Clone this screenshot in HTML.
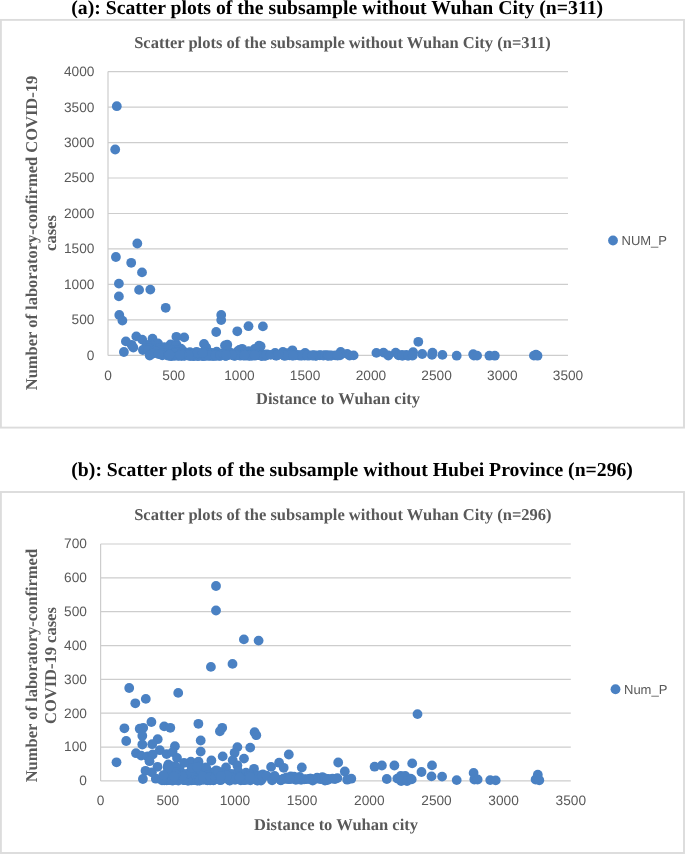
<!DOCTYPE html>
<html lang="en"><head><meta charset="utf-8"><title>Scatter plots</title>
<style>
html,body{margin:0;padding:0;background:#fff;}
body{width:685px;height:854px;overflow:hidden;position:relative;}
svg{position:absolute;left:0;top:0;display:block}
text{text-rendering:geometricPrecision}
.t{font-family:"Liberation Serif",serif;font-weight:bold;}
.h{font-size:19.72px;fill:#000;}
.ct{font-size:16.5px;fill:#595959;}
.n{font-family:"Liberation Sans",sans-serif;font-size:13.7px;fill:#595959;}
.l{font-size:13px}
.g{stroke:#cdcdcd;stroke-width:1.2;fill:none}
.b{stroke:#dcdcdc;stroke-width:1.9;fill:#fff;}
.p{fill:#4a81c3}
</style></head><body>
<svg width="685" height="854" viewBox="0 0 685 854">

<text class="t h" x="71.3" y="14.0">(a): Scatter plots of the subsample without Wuhan City (n=311)</text>
<rect class="b" x="0.9" y="19.9" width="683.1" height="407.7"/>
<text class="t ct" x="134.2" y="47.8">Scatter plots of the subsample without Wuhan City (n=311)</text>
<line class="g" x1="108.0" x2="568.0" y1="71.60" y2="71.60"/>
<text class="n" text-anchor="end" x="94.4" y="76.05">4000</text>
<line class="g" x1="108.0" x2="568.0" y1="107.07" y2="107.07"/>
<text class="n" text-anchor="end" x="94.4" y="111.52">3500</text>
<line class="g" x1="108.0" x2="568.0" y1="142.55" y2="142.55"/>
<text class="n" text-anchor="end" x="94.4" y="147.00">3000</text>
<line class="g" x1="108.0" x2="568.0" y1="178.02" y2="178.02"/>
<text class="n" text-anchor="end" x="94.4" y="182.47">2500</text>
<line class="g" x1="108.0" x2="568.0" y1="213.50" y2="213.50"/>
<text class="n" text-anchor="end" x="94.4" y="217.95">2000</text>
<line class="g" x1="108.0" x2="568.0" y1="248.97" y2="248.97"/>
<text class="n" text-anchor="end" x="94.4" y="253.42">1500</text>
<line class="g" x1="108.0" x2="568.0" y1="284.45" y2="284.45"/>
<text class="n" text-anchor="end" x="94.4" y="288.90">1000</text>
<line class="g" x1="108.0" x2="568.0" y1="319.92" y2="319.92"/>
<text class="n" text-anchor="end" x="94.4" y="324.37">500</text>
<line class="g" x1="108.0" x2="568.0" y1="355.40" y2="355.40"/>
<text class="n" text-anchor="end" x="94.4" y="359.85">0</text>
<line class="g" x1="108.0" x2="108.0" y1="71.6" y2="355.4"/>
<text class="n" text-anchor="middle" x="108.0" y="379.8">0</text>
<text class="n" text-anchor="middle" x="173.7" y="379.8">500</text>
<text class="n" text-anchor="middle" x="239.4" y="379.8">1000</text>
<text class="n" text-anchor="middle" x="305.1" y="379.8">1500</text>
<text class="n" text-anchor="middle" x="370.9" y="379.8">2000</text>
<text class="n" text-anchor="middle" x="436.6" y="379.8">2500</text>
<text class="n" text-anchor="middle" x="502.3" y="379.8">3000</text>
<text class="n" text-anchor="middle" x="568.0" y="379.8">3500</text>
<text class="t ct" text-anchor="middle" x="338" y="403.7">Distance to Wuhan city</text>
<text class="t ct" text-anchor="middle" transform="translate(37,233.0) rotate(-90)">Number of laboratory-confirmed COVID-19</text>
<text class="t ct" text-anchor="middle" transform="translate(56.4,233.0) rotate(-90)">cases</text>
<g class="p"><circle cx="221.2" cy="315.0" r="4.9"/><circle cx="221.2" cy="320.1" r="4.9"/><circle cx="216.2" cy="332.0" r="4.9"/><circle cx="248.5" cy="326.2" r="4.9"/><circle cx="262.9" cy="326.4" r="4.9"/><circle cx="237.3" cy="331.3" r="4.9"/><circle cx="136.3" cy="336.4" r="4.9"/><circle cx="184.2" cy="337.4" r="4.9"/><circle cx="152.5" cy="338.7" r="4.9"/><circle cx="142.2" cy="339.6" r="4.9"/><circle cx="158.0" cy="343.5" r="4.9"/><circle cx="131.6" cy="344.8" r="4.9"/><circle cx="146.6" cy="344.9" r="4.9"/><circle cx="150.0" cy="344.7" r="4.9"/><circle cx="170.5" cy="344.4" r="4.9"/><circle cx="176.5" cy="344.7" r="4.9"/><circle cx="204.0" cy="343.9" r="4.9"/><circle cx="149.1" cy="346.4" r="4.9"/><circle cx="133.3" cy="347.5" r="4.9"/><circle cx="164.2" cy="347.1" r="4.9"/><circle cx="158.8" cy="348.2" r="4.9"/><circle cx="149.1" cy="348.2" r="4.9"/><circle cx="206.2" cy="347.4" r="4.9"/><circle cx="181.0" cy="348.6" r="4.9"/><circle cx="166.2" cy="349.4" r="4.9"/><circle cx="142.9" cy="350.0" r="4.9"/><circle cx="206.2" cy="349.7" r="4.9"/><circle cx="123.9" cy="352.0" r="4.9"/><circle cx="148.0" cy="350.5" r="4.9"/><circle cx="154.3" cy="350.7" r="4.9"/><circle cx="159.3" cy="350.3" r="4.9"/><circle cx="172.9" cy="350.2" r="4.9"/><circle cx="178.7" cy="349.8" r="4.9"/><circle cx="183.0" cy="351.0" r="4.9"/><circle cx="156.1" cy="351.7" r="4.9"/><circle cx="152.2" cy="353.7" r="4.9"/><circle cx="164.0" cy="352.9" r="4.9"/><circle cx="174.5" cy="352.4" r="4.9"/><circle cx="149.7" cy="355.5" r="4.9"/><circle cx="162.3" cy="355.4" r="4.9"/><circle cx="158.5" cy="354.0" r="4.9"/><circle cx="216.7" cy="351.6" r="4.9"/><circle cx="196.6" cy="351.8" r="4.9"/><circle cx="204.1" cy="351.8" r="4.9"/><circle cx="189.9" cy="352.1" r="4.9"/><circle cx="227.3" cy="344.7" r="4.9"/><circle cx="225.0" cy="345.5" r="4.9"/><circle cx="259.0" cy="345.6" r="4.9"/><circle cx="260.6" cy="346.3" r="4.9"/><circle cx="242.1" cy="348.8" r="4.9"/><circle cx="254.7" cy="348.9" r="4.9"/><circle cx="239.4" cy="350.0" r="4.9"/><circle cx="227.8" cy="350.7" r="4.9"/><circle cx="292.4" cy="350.3" r="4.9"/><circle cx="237.5" cy="351.5" r="4.9"/><circle cx="248.6" cy="351.2" r="4.9"/><circle cx="282.9" cy="352.0" r="4.9"/><circle cx="275.1" cy="352.9" r="4.9"/><circle cx="305.1" cy="353.0" r="4.9"/><circle cx="287.4" cy="353.1" r="4.9"/><circle cx="258.4" cy="353.3" r="4.9"/><circle cx="231.0" cy="353.0" r="4.9"/><circle cx="242.1" cy="352.6" r="4.9"/><circle cx="294.4" cy="354.9" r="4.9"/><circle cx="303.0" cy="355.0" r="4.9"/><circle cx="313.3" cy="355.4" r="4.9"/><circle cx="320.1" cy="355.2" r="4.9"/><circle cx="325.3" cy="355.1" r="4.9"/><circle cx="418.3" cy="341.8" r="4.9"/><circle cx="340.7" cy="352.0" r="4.9"/><circle cx="347.2" cy="353.9" r="4.9"/><circle cx="376.4" cy="352.9" r="4.9"/><circle cx="383.5" cy="352.6" r="4.9"/><circle cx="395.7" cy="352.6" r="4.9"/><circle cx="413.1" cy="352.2" r="4.9"/><circle cx="432.5" cy="352.6" r="4.9"/><circle cx="422.2" cy="354.0" r="4.9"/><circle cx="432.0" cy="354.9" r="4.9"/><circle cx="388.3" cy="355.5" r="4.9"/><circle cx="349.6" cy="355.6" r="4.9"/><circle cx="353.6" cy="355.4" r="4.9"/><circle cx="340.0" cy="355.3" r="4.9"/><circle cx="398.6" cy="355.4" r="4.9"/><circle cx="402.0" cy="354.8" r="4.9"/><circle cx="406.3" cy="354.8" r="4.9"/><circle cx="411.5" cy="355.4" r="4.9"/><circle cx="442.4" cy="354.9" r="4.9"/><circle cx="456.7" cy="355.7" r="4.9"/><circle cx="473.2" cy="354.2" r="4.9"/><circle cx="473.9" cy="355.6" r="4.9"/><circle cx="477.1" cy="355.6" r="4.9"/><circle cx="489.4" cy="355.7" r="4.9"/><circle cx="494.8" cy="355.7" r="4.9"/><circle cx="536.0" cy="354.6" r="4.9"/><circle cx="533.9" cy="355.6" r="4.9"/><circle cx="537.5" cy="355.7" r="4.9"/><circle cx="402.4" cy="355.9" r="4.9"/><circle cx="408.1" cy="355.9" r="4.9"/><circle cx="412.7" cy="355.5" r="4.9"/><circle cx="319.8" cy="355.4" r="4.9"/><circle cx="323.4" cy="355.5" r="4.9"/><circle cx="327.3" cy="355.3" r="4.9"/><circle cx="331.3" cy="355.5" r="4.9"/><circle cx="335.2" cy="355.4" r="4.9"/><circle cx="316.1" cy="355.5" r="4.9"/><circle cx="309.2" cy="355.5" r="4.9"/><circle cx="185.1" cy="353.7" r="4.9"/><circle cx="171.4" cy="355.1" r="4.9"/><circle cx="170.5" cy="355.7" r="4.9"/><circle cx="191.2" cy="355.5" r="4.9"/><circle cx="190.7" cy="355.7" r="4.9"/><circle cx="179.6" cy="354.4" r="4.9"/><circle cx="199.0" cy="353.6" r="4.9"/><circle cx="169.9" cy="355.6" r="4.9"/><circle cx="175.3" cy="354.7" r="4.9"/><circle cx="212.1" cy="354.1" r="4.9"/><circle cx="202.4" cy="354.5" r="4.9"/><circle cx="170.8" cy="355.0" r="4.9"/><circle cx="204.7" cy="355.1" r="4.9"/><circle cx="199.5" cy="355.2" r="4.9"/><circle cx="210.9" cy="355.5" r="4.9"/><circle cx="198.9" cy="354.3" r="4.9"/><circle cx="207.3" cy="353.3" r="4.9"/><circle cx="173.8" cy="354.1" r="4.9"/><circle cx="175.7" cy="355.7" r="4.9"/><circle cx="204.0" cy="355.3" r="4.9"/><circle cx="215.3" cy="354.1" r="4.9"/><circle cx="200.0" cy="355.1" r="4.9"/><circle cx="213.4" cy="355.7" r="4.9"/><circle cx="203.8" cy="353.4" r="4.9"/><circle cx="202.8" cy="355.8" r="4.9"/><circle cx="182.9" cy="354.2" r="4.9"/><circle cx="168.7" cy="355.4" r="4.9"/><circle cx="173.8" cy="353.0" r="4.9"/><circle cx="174.4" cy="354.7" r="4.9"/><circle cx="215.1" cy="354.3" r="4.9"/><circle cx="197.5" cy="355.4" r="4.9"/><circle cx="214.7" cy="354.7" r="4.9"/><circle cx="187.1" cy="355.4" r="4.9"/><circle cx="175.7" cy="355.1" r="4.9"/><circle cx="180.2" cy="354.6" r="4.9"/><circle cx="181.8" cy="354.2" r="4.9"/><circle cx="187.6" cy="354.2" r="4.9"/><circle cx="205.3" cy="354.7" r="4.9"/><circle cx="204.5" cy="352.7" r="4.9"/><circle cx="210.1" cy="355.4" r="4.9"/><circle cx="188.9" cy="355.6" r="4.9"/><circle cx="202.1" cy="355.6" r="4.9"/><circle cx="178.8" cy="354.7" r="4.9"/><circle cx="170.2" cy="355.2" r="4.9"/><circle cx="173.0" cy="355.7" r="4.9"/><circle cx="215.3" cy="355.6" r="4.9"/><circle cx="181.2" cy="354.9" r="4.9"/><circle cx="174.1" cy="355.2" r="4.9"/><circle cx="192.9" cy="355.6" r="4.9"/><circle cx="173.0" cy="355.1" r="4.9"/><circle cx="212.8" cy="355.7" r="4.9"/><circle cx="219.5" cy="355.5" r="4.9"/><circle cx="197.1" cy="353.9" r="4.9"/><circle cx="221.0" cy="355.5" r="4.9"/><circle cx="181.7" cy="355.4" r="4.9"/><circle cx="209.7" cy="354.5" r="4.9"/><circle cx="185.5" cy="353.4" r="4.9"/><circle cx="221.4" cy="355.4" r="4.9"/><circle cx="212.2" cy="355.6" r="4.9"/><circle cx="195.8" cy="355.7" r="4.9"/><circle cx="169.0" cy="355.1" r="4.9"/><circle cx="205.3" cy="355.7" r="4.9"/><circle cx="218.8" cy="355.7" r="4.9"/><circle cx="187.3" cy="355.1" r="4.9"/><circle cx="178.2" cy="353.9" r="4.9"/><circle cx="216.7" cy="355.5" r="4.9"/><circle cx="203.2" cy="355.7" r="4.9"/><circle cx="203.6" cy="355.5" r="4.9"/><circle cx="208.5" cy="355.5" r="4.9"/><circle cx="210.6" cy="353.9" r="4.9"/><circle cx="220.6" cy="354.9" r="4.9"/><circle cx="219.2" cy="355.6" r="4.9"/><circle cx="174.3" cy="352.8" r="4.9"/><circle cx="211.6" cy="353.3" r="4.9"/><circle cx="221.1" cy="355.4" r="4.9"/><circle cx="197.4" cy="355.7" r="4.9"/><circle cx="220.6" cy="355.1" r="4.9"/><circle cx="218.6" cy="354.0" r="4.9"/><circle cx="212.7" cy="355.1" r="4.9"/><circle cx="183.4" cy="354.1" r="4.9"/><circle cx="181.6" cy="355.5" r="4.9"/><circle cx="217.3" cy="354.7" r="4.9"/><circle cx="199.4" cy="355.6" r="4.9"/><circle cx="217.7" cy="354.9" r="4.9"/><circle cx="196.1" cy="354.2" r="4.9"/><circle cx="177.5" cy="352.7" r="4.9"/><circle cx="176.9" cy="354.3" r="4.9"/><circle cx="197.9" cy="354.5" r="4.9"/><circle cx="197.8" cy="355.7" r="4.9"/><circle cx="198.1" cy="355.0" r="4.9"/><circle cx="209.7" cy="354.8" r="4.9"/><circle cx="209.1" cy="355.6" r="4.9"/><circle cx="200.9" cy="354.9" r="4.9"/><circle cx="205.3" cy="354.7" r="4.9"/><circle cx="193.6" cy="355.6" r="4.9"/><circle cx="215.4" cy="355.7" r="4.9"/><circle cx="198.0" cy="355.6" r="4.9"/><circle cx="174.9" cy="354.3" r="4.9"/><circle cx="171.4" cy="355.6" r="4.9"/><circle cx="204.1" cy="355.1" r="4.9"/><circle cx="175.8" cy="355.1" r="4.9"/><circle cx="175.2" cy="355.3" r="4.9"/><circle cx="179.4" cy="355.7" r="4.9"/><circle cx="194.1" cy="355.8" r="4.9"/><circle cx="176.2" cy="354.7" r="4.9"/><circle cx="186.0" cy="354.8" r="4.9"/><circle cx="206.9" cy="353.8" r="4.9"/><circle cx="191.6" cy="354.6" r="4.9"/><circle cx="201.5" cy="355.7" r="4.9"/><circle cx="221.4" cy="355.1" r="4.9"/><circle cx="173.2" cy="355.7" r="4.9"/><circle cx="210.0" cy="355.5" r="4.9"/><circle cx="190.5" cy="355.5" r="4.9"/><circle cx="181.6" cy="352.8" r="4.9"/><circle cx="198.7" cy="355.7" r="4.9"/><circle cx="170.5" cy="355.3" r="4.9"/><circle cx="171.4" cy="355.6" r="4.9"/><circle cx="211.3" cy="353.0" r="4.9"/><circle cx="171.0" cy="355.6" r="4.9"/><circle cx="186.0" cy="354.2" r="4.9"/><circle cx="182.1" cy="354.0" r="4.9"/><circle cx="180.5" cy="355.2" r="4.9"/><circle cx="170.1" cy="354.8" r="4.9"/><circle cx="184.1" cy="355.5" r="4.9"/><circle cx="194.8" cy="354.7" r="4.9"/><circle cx="168.4" cy="355.7" r="4.9"/><circle cx="207.6" cy="355.5" r="4.9"/><circle cx="193.4" cy="355.8" r="4.9"/><circle cx="212.3" cy="354.8" r="4.9"/><circle cx="213.1" cy="354.7" r="4.9"/><circle cx="205.1" cy="355.8" r="4.9"/><circle cx="213.0" cy="355.1" r="4.9"/><circle cx="189.6" cy="355.7" r="4.9"/><circle cx="174.5" cy="353.1" r="4.9"/><circle cx="181.4" cy="355.5" r="4.9"/><circle cx="213.5" cy="355.5" r="4.9"/><circle cx="182.8" cy="354.9" r="4.9"/><circle cx="192.5" cy="354.4" r="4.9"/><circle cx="181.8" cy="355.6" r="4.9"/><circle cx="197.3" cy="353.1" r="4.9"/><circle cx="184.3" cy="355.8" r="4.9"/><circle cx="188.3" cy="354.8" r="4.9"/><circle cx="178.4" cy="355.8" r="4.9"/><circle cx="181.9" cy="354.4" r="4.9"/><circle cx="169.6" cy="354.6" r="4.9"/><circle cx="180.1" cy="354.9" r="4.9"/><circle cx="208.5" cy="354.9" r="4.9"/><circle cx="215.5" cy="355.1" r="4.9"/><circle cx="221.3" cy="353.6" r="4.9"/><circle cx="202.6" cy="352.9" r="4.9"/><circle cx="261.2" cy="355.2" r="4.9"/><circle cx="257.6" cy="354.7" r="4.9"/><circle cx="243.4" cy="355.5" r="4.9"/><circle cx="258.2" cy="355.0" r="4.9"/><circle cx="251.6" cy="355.6" r="4.9"/><circle cx="221.7" cy="354.7" r="4.9"/><circle cx="225.0" cy="355.5" r="4.9"/><circle cx="249.1" cy="355.2" r="4.9"/><circle cx="242.7" cy="353.8" r="4.9"/><circle cx="254.7" cy="355.1" r="4.9"/><circle cx="250.5" cy="354.1" r="4.9"/><circle cx="231.9" cy="354.9" r="4.9"/><circle cx="253.8" cy="354.4" r="4.9"/><circle cx="265.1" cy="355.3" r="4.9"/><circle cx="242.2" cy="355.2" r="4.9"/><circle cx="248.6" cy="355.7" r="4.9"/><circle cx="227.0" cy="354.2" r="4.9"/><circle cx="234.2" cy="355.7" r="4.9"/><circle cx="223.1" cy="354.3" r="4.9"/><circle cx="252.0" cy="355.5" r="4.9"/><circle cx="244.0" cy="355.1" r="4.9"/><circle cx="225.7" cy="355.7" r="4.9"/><circle cx="265.2" cy="355.8" r="4.9"/><circle cx="241.3" cy="355.3" r="4.9"/><circle cx="240.9" cy="355.3" r="4.9"/><circle cx="263.7" cy="354.7" r="4.9"/><circle cx="226.8" cy="354.5" r="4.9"/><circle cx="226.3" cy="355.5" r="4.9"/><circle cx="261.0" cy="355.6" r="4.9"/><circle cx="261.5" cy="355.7" r="4.9"/><circle cx="220.4" cy="355.0" r="4.9"/><circle cx="234.1" cy="354.8" r="4.9"/><circle cx="234.8" cy="355.8" r="4.9"/><circle cx="254.8" cy="355.7" r="4.9"/><circle cx="262.8" cy="355.2" r="4.9"/><circle cx="233.5" cy="355.0" r="4.9"/><circle cx="266.1" cy="355.4" r="4.9"/><circle cx="239.9" cy="355.6" r="4.9"/><circle cx="224.9" cy="355.6" r="4.9"/><circle cx="263.3" cy="355.2" r="4.9"/><circle cx="243.7" cy="354.9" r="4.9"/><circle cx="264.1" cy="355.6" r="4.9"/><circle cx="249.3" cy="355.6" r="4.9"/><circle cx="245.5" cy="355.7" r="4.9"/><circle cx="253.9" cy="354.8" r="4.9"/><circle cx="249.9" cy="355.6" r="4.9"/><circle cx="262.9" cy="354.8" r="4.9"/><circle cx="236.1" cy="354.4" r="4.9"/><circle cx="265.1" cy="354.7" r="4.9"/><circle cx="234.0" cy="355.2" r="4.9"/><circle cx="227.9" cy="355.1" r="4.9"/><circle cx="261.9" cy="355.5" r="4.9"/><circle cx="261.9" cy="355.8" r="4.9"/><circle cx="226.7" cy="355.5" r="4.9"/><circle cx="236.0" cy="355.1" r="4.9"/><circle cx="232.1" cy="354.8" r="4.9"/><circle cx="254.7" cy="355.1" r="4.9"/><circle cx="244.3" cy="355.2" r="4.9"/><circle cx="223.1" cy="353.8" r="4.9"/><circle cx="226.0" cy="354.8" r="4.9"/><circle cx="300.8" cy="355.4" r="4.9"/><circle cx="276.2" cy="355.2" r="4.9"/><circle cx="304.5" cy="355.6" r="4.9"/><circle cx="267.1" cy="354.5" r="4.9"/><circle cx="302.1" cy="355.4" r="4.9"/><circle cx="266.2" cy="354.8" r="4.9"/><circle cx="299.3" cy="355.6" r="4.9"/><circle cx="276.2" cy="355.3" r="4.9"/><circle cx="287.1" cy="355.4" r="4.9"/><circle cx="295.2" cy="355.4" r="4.9"/><circle cx="284.6" cy="355.7" r="4.9"/><circle cx="297.6" cy="355.0" r="4.9"/><circle cx="292.1" cy="355.5" r="4.9"/><circle cx="276.3" cy="355.3" r="4.9"/><circle cx="270.7" cy="354.8" r="4.9"/><circle cx="289.6" cy="355.4" r="4.9"/><circle cx="290.3" cy="355.1" r="4.9"/><circle cx="284.7" cy="355.7" r="4.9"/><circle cx="301.6" cy="355.5" r="4.9"/><circle cx="276.1" cy="355.7" r="4.9"/><circle cx="278.5" cy="354.8" r="4.9"/><circle cx="293.3" cy="355.5" r="4.9"/><circle cx="327.8" cy="355.8" r="4.9"/><circle cx="307.4" cy="355.5" r="4.9"/><circle cx="328.3" cy="355.4" r="4.9"/><circle cx="330.2" cy="355.7" r="4.9"/><circle cx="337.6" cy="355.5" r="4.9"/><circle cx="313.7" cy="355.4" r="4.9"/><circle cx="315.8" cy="355.8" r="4.9"/><circle cx="312.4" cy="355.5" r="4.9"/><circle cx="116.8" cy="106.2" r="4.9"/><circle cx="115.2" cy="149.5" r="4.9"/><circle cx="137.3" cy="243.5" r="4.9"/><circle cx="115.9" cy="257.0" r="4.9"/><circle cx="131.2" cy="262.8" r="4.9"/><circle cx="142.0" cy="272.4" r="4.9"/><circle cx="118.9" cy="283.6" r="4.9"/><circle cx="139.1" cy="289.9" r="4.9"/><circle cx="150.3" cy="289.6" r="4.9"/><circle cx="118.9" cy="296.4" r="4.9"/><circle cx="165.7" cy="307.8" r="4.9"/><circle cx="119.3" cy="315.0" r="4.9"/><circle cx="122.4" cy="320.6" r="4.9"/><circle cx="125.9" cy="341.4" r="4.9"/><circle cx="176.4" cy="336.8" r="4.9"/><circle cx="613" cy="240.5" r="4.9"/></g>
<text class="n l" x="621.5" y="245">NUM_P</text>
<text class="t h" x="71.3" y="475.7">(b): Scatter plots of the subsample without Hubei Province (n=296)</text>
<rect class="b" x="0.9" y="492.0" width="683.1" height="361.0"/>
<text class="t ct" x="134.2" y="519.5">Scatter plots of the subsample without Wuhan City (n=296)</text>
<line class="g" x1="100.6" x2="570.8" y1="544.00" y2="544.00"/>
<text class="n" text-anchor="end" x="86.9" y="548.35">700</text>
<line class="g" x1="100.6" x2="570.8" y1="577.84" y2="577.84"/>
<text class="n" text-anchor="end" x="86.9" y="582.19">600</text>
<line class="g" x1="100.6" x2="570.8" y1="611.69" y2="611.69"/>
<text class="n" text-anchor="end" x="86.9" y="616.04">500</text>
<line class="g" x1="100.6" x2="570.8" y1="645.53" y2="645.53"/>
<text class="n" text-anchor="end" x="86.9" y="649.88">400</text>
<line class="g" x1="100.6" x2="570.8" y1="679.37" y2="679.37"/>
<text class="n" text-anchor="end" x="86.9" y="683.72">300</text>
<line class="g" x1="100.6" x2="570.8" y1="713.21" y2="713.21"/>
<text class="n" text-anchor="end" x="86.9" y="717.56">200</text>
<line class="g" x1="100.6" x2="570.8" y1="747.06" y2="747.06"/>
<text class="n" text-anchor="end" x="86.9" y="751.41">100</text>
<line class="g" x1="100.6" x2="570.8" y1="780.90" y2="780.90"/>
<text class="n" text-anchor="end" x="86.9" y="785.25">0</text>
<line class="g" x1="100.6" x2="100.6" y1="544.0" y2="780.9"/>
<text class="n" text-anchor="middle" x="100.6" y="804.6">0</text>
<text class="n" text-anchor="middle" x="167.8" y="804.6">500</text>
<text class="n" text-anchor="middle" x="234.9" y="804.6">1000</text>
<text class="n" text-anchor="middle" x="302.1" y="804.6">1500</text>
<text class="n" text-anchor="middle" x="369.3" y="804.6">2000</text>
<text class="n" text-anchor="middle" x="436.5" y="804.6">2500</text>
<text class="n" text-anchor="middle" x="503.6" y="804.6">3000</text>
<text class="n" text-anchor="middle" x="570.8" y="804.6">3500</text>
<text class="t ct" text-anchor="middle" x="336" y="829.7">Distance to Wuhan city</text>
<text class="t ct" text-anchor="middle" transform="translate(37,665.6) rotate(-90)">Number of laboratory-confirmed</text>
<text class="t ct" text-anchor="middle" transform="translate(56.4,665.6) rotate(-90)">COVID-19 cases</text>
<g class="p"><circle cx="216.0" cy="586.0" r="4.9"/><circle cx="216.0" cy="610.5" r="4.9"/><circle cx="210.9" cy="666.9" r="4.9"/><circle cx="243.9" cy="639.4" r="4.9"/><circle cx="258.6" cy="640.6" r="4.9"/><circle cx="232.5" cy="663.9" r="4.9"/><circle cx="129.2" cy="688.0" r="4.9"/><circle cx="178.2" cy="692.9" r="4.9"/><circle cx="145.8" cy="698.9" r="4.9"/><circle cx="135.3" cy="703.3" r="4.9"/><circle cx="151.4" cy="722.0" r="4.9"/><circle cx="124.4" cy="728.3" r="4.9"/><circle cx="139.7" cy="728.7" r="4.9"/><circle cx="143.2" cy="727.8" r="4.9"/><circle cx="164.2" cy="726.4" r="4.9"/><circle cx="170.3" cy="727.8" r="4.9"/><circle cx="198.4" cy="723.8" r="4.9"/><circle cx="142.3" cy="735.7" r="4.9"/><circle cx="126.2" cy="741.0" r="4.9"/><circle cx="157.7" cy="739.2" r="4.9"/><circle cx="152.2" cy="744.2" r="4.9"/><circle cx="142.3" cy="744.5" r="4.9"/><circle cx="200.7" cy="740.5" r="4.9"/><circle cx="174.9" cy="746.2" r="4.9"/><circle cx="159.8" cy="750.2" r="4.9"/><circle cx="136.0" cy="753.2" r="4.9"/><circle cx="200.7" cy="751.6" r="4.9"/><circle cx="116.5" cy="762.3" r="4.9"/><circle cx="141.2" cy="755.6" r="4.9"/><circle cx="147.6" cy="756.5" r="4.9"/><circle cx="152.7" cy="754.5" r="4.9"/><circle cx="166.6" cy="754.1" r="4.9"/><circle cx="172.6" cy="752.1" r="4.9"/><circle cx="177.0" cy="758.0" r="4.9"/><circle cx="149.5" cy="761.2" r="4.9"/><circle cx="145.5" cy="770.8" r="4.9"/><circle cx="157.5" cy="766.8" r="4.9"/><circle cx="168.3" cy="764.4" r="4.9"/><circle cx="142.9" cy="779.0" r="4.9"/><circle cx="155.8" cy="778.7" r="4.9"/><circle cx="151.9" cy="772.3" r="4.9"/><circle cx="211.4" cy="760.5" r="4.9"/><circle cx="190.9" cy="761.7" r="4.9"/><circle cx="198.5" cy="761.7" r="4.9"/><circle cx="184.0" cy="762.8" r="4.9"/><circle cx="222.2" cy="727.8" r="4.9"/><circle cx="219.9" cy="731.3" r="4.9"/><circle cx="254.6" cy="732.2" r="4.9"/><circle cx="256.3" cy="735.2" r="4.9"/><circle cx="237.4" cy="747.1" r="4.9"/><circle cx="250.2" cy="747.6" r="4.9"/><circle cx="234.6" cy="752.8" r="4.9"/><circle cx="222.7" cy="756.4" r="4.9"/><circle cx="288.8" cy="754.5" r="4.9"/><circle cx="232.7" cy="760.3" r="4.9"/><circle cx="244.0" cy="758.6" r="4.9"/><circle cx="279.1" cy="762.7" r="4.9"/><circle cx="271.1" cy="766.9" r="4.9"/><circle cx="301.8" cy="767.5" r="4.9"/><circle cx="283.7" cy="767.8" r="4.9"/><circle cx="254.0" cy="768.8" r="4.9"/><circle cx="226.0" cy="767.4" r="4.9"/><circle cx="237.4" cy="765.5" r="4.9"/><circle cx="290.8" cy="776.5" r="4.9"/><circle cx="299.6" cy="776.9" r="4.9"/><circle cx="310.1" cy="778.6" r="4.9"/><circle cx="317.1" cy="777.7" r="4.9"/><circle cx="322.4" cy="777.2" r="4.9"/><circle cx="417.5" cy="714.1" r="4.9"/><circle cx="338.2" cy="762.5" r="4.9"/><circle cx="344.8" cy="771.5" r="4.9"/><circle cx="374.6" cy="766.7" r="4.9"/><circle cx="381.9" cy="765.5" r="4.9"/><circle cx="394.4" cy="765.5" r="4.9"/><circle cx="412.2" cy="763.4" r="4.9"/><circle cx="432.0" cy="765.4" r="4.9"/><circle cx="421.5" cy="772.0" r="4.9"/><circle cx="431.5" cy="776.4" r="4.9"/><circle cx="386.8" cy="779.0" r="4.9"/><circle cx="347.2" cy="779.7" r="4.9"/><circle cx="351.3" cy="778.7" r="4.9"/><circle cx="337.4" cy="778.1" r="4.9"/><circle cx="397.3" cy="778.6" r="4.9"/><circle cx="400.8" cy="776.0" r="4.9"/><circle cx="405.2" cy="776.0" r="4.9"/><circle cx="410.5" cy="778.6" r="4.9"/><circle cx="442.1" cy="776.6" r="4.9"/><circle cx="456.7" cy="780.1" r="4.9"/><circle cx="473.6" cy="772.9" r="4.9"/><circle cx="474.3" cy="779.5" r="4.9"/><circle cx="477.6" cy="779.5" r="4.9"/><circle cx="490.2" cy="780.1" r="4.9"/><circle cx="495.7" cy="780.4" r="4.9"/><circle cx="537.8" cy="774.7" r="4.9"/><circle cx="535.6" cy="779.5" r="4.9"/><circle cx="539.3" cy="780.3" r="4.9"/><circle cx="401.2" cy="781.0" r="4.9"/><circle cx="407.0" cy="781.0" r="4.9"/><circle cx="411.7" cy="779.4" r="4.9"/><circle cx="316.8" cy="778.6" r="4.9"/><circle cx="320.5" cy="779.2" r="4.9"/><circle cx="324.5" cy="778.4" r="4.9"/><circle cx="328.5" cy="779.0" r="4.9"/><circle cx="332.5" cy="778.7" r="4.9"/><circle cx="313.0" cy="779.3" r="4.9"/><circle cx="306.0" cy="779.2" r="4.9"/><circle cx="179.1" cy="770.7" r="4.9"/><circle cx="165.1" cy="777.5" r="4.9"/><circle cx="164.2" cy="780.3" r="4.9"/><circle cx="185.3" cy="779.1" r="4.9"/><circle cx="184.8" cy="780.2" r="4.9"/><circle cx="173.5" cy="774.2" r="4.9"/><circle cx="193.3" cy="770.3" r="4.9"/><circle cx="163.6" cy="779.8" r="4.9"/><circle cx="169.1" cy="775.6" r="4.9"/><circle cx="206.7" cy="772.5" r="4.9"/><circle cx="196.8" cy="774.6" r="4.9"/><circle cx="164.5" cy="777.0" r="4.9"/><circle cx="199.1" cy="777.5" r="4.9"/><circle cx="193.8" cy="777.7" r="4.9"/><circle cx="205.5" cy="779.4" r="4.9"/><circle cx="193.2" cy="773.3" r="4.9"/><circle cx="201.8" cy="768.6" r="4.9"/><circle cx="167.6" cy="772.5" r="4.9"/><circle cx="169.5" cy="780.2" r="4.9"/><circle cx="198.4" cy="778.3" r="4.9"/><circle cx="210.0" cy="772.6" r="4.9"/><circle cx="194.3" cy="777.3" r="4.9"/><circle cx="208.0" cy="780.2" r="4.9"/><circle cx="198.2" cy="769.2" r="4.9"/><circle cx="197.2" cy="780.5" r="4.9"/><circle cx="176.9" cy="773.2" r="4.9"/><circle cx="162.3" cy="778.9" r="4.9"/><circle cx="167.6" cy="767.3" r="4.9"/><circle cx="168.2" cy="775.2" r="4.9"/><circle cx="209.8" cy="773.6" r="4.9"/><circle cx="191.8" cy="778.9" r="4.9"/><circle cx="209.4" cy="775.5" r="4.9"/><circle cx="181.1" cy="778.6" r="4.9"/><circle cx="169.5" cy="777.1" r="4.9"/><circle cx="174.1" cy="775.1" r="4.9"/><circle cx="175.7" cy="773.1" r="4.9"/><circle cx="181.7" cy="773.2" r="4.9"/><circle cx="199.7" cy="775.4" r="4.9"/><circle cx="198.9" cy="765.9" r="4.9"/><circle cx="204.7" cy="778.9" r="4.9"/><circle cx="183.0" cy="779.5" r="4.9"/><circle cx="196.5" cy="779.5" r="4.9"/><circle cx="172.7" cy="775.4" r="4.9"/><circle cx="163.9" cy="777.8" r="4.9"/><circle cx="166.7" cy="780.3" r="4.9"/><circle cx="210.0" cy="779.6" r="4.9"/><circle cx="175.1" cy="776.3" r="4.9"/><circle cx="167.9" cy="777.8" r="4.9"/><circle cx="187.1" cy="779.8" r="4.9"/><circle cx="166.7" cy="777.4" r="4.9"/><circle cx="207.4" cy="780.3" r="4.9"/><circle cx="214.3" cy="779.4" r="4.9"/><circle cx="191.4" cy="771.6" r="4.9"/><circle cx="215.8" cy="779.0" r="4.9"/><circle cx="175.6" cy="778.7" r="4.9"/><circle cx="204.2" cy="774.4" r="4.9"/><circle cx="179.5" cy="769.3" r="4.9"/><circle cx="216.2" cy="778.6" r="4.9"/><circle cx="206.8" cy="779.6" r="4.9"/><circle cx="190.0" cy="780.3" r="4.9"/><circle cx="162.6" cy="777.1" r="4.9"/><circle cx="199.8" cy="780.3" r="4.9"/><circle cx="213.5" cy="780.4" r="4.9"/><circle cx="181.4" cy="777.4" r="4.9"/><circle cx="172.0" cy="771.6" r="4.9"/><circle cx="211.4" cy="779.3" r="4.9"/><circle cx="197.6" cy="780.3" r="4.9"/><circle cx="198.0" cy="779.4" r="4.9"/><circle cx="203.0" cy="779.0" r="4.9"/><circle cx="205.2" cy="771.5" r="4.9"/><circle cx="215.4" cy="776.6" r="4.9"/><circle cx="214.0" cy="779.8" r="4.9"/><circle cx="168.1" cy="766.5" r="4.9"/><circle cx="206.2" cy="768.6" r="4.9"/><circle cx="215.9" cy="778.6" r="4.9"/><circle cx="191.7" cy="780.4" r="4.9"/><circle cx="215.4" cy="777.5" r="4.9"/><circle cx="213.3" cy="772.3" r="4.9"/><circle cx="207.3" cy="777.2" r="4.9"/><circle cx="177.4" cy="772.6" r="4.9"/><circle cx="175.5" cy="779.2" r="4.9"/><circle cx="212.0" cy="775.6" r="4.9"/><circle cx="193.7" cy="779.9" r="4.9"/><circle cx="212.4" cy="776.2" r="4.9"/><circle cx="190.3" cy="773.0" r="4.9"/><circle cx="171.3" cy="766.1" r="4.9"/><circle cx="170.7" cy="773.6" r="4.9"/><circle cx="192.2" cy="774.5" r="4.9"/><circle cx="192.1" cy="780.2" r="4.9"/><circle cx="192.4" cy="777.0" r="4.9"/><circle cx="204.2" cy="775.9" r="4.9"/><circle cx="203.6" cy="779.9" r="4.9"/><circle cx="195.3" cy="776.2" r="4.9"/><circle cx="199.8" cy="775.6" r="4.9"/><circle cx="187.8" cy="779.9" r="4.9"/><circle cx="210.1" cy="780.3" r="4.9"/><circle cx="192.3" cy="779.8" r="4.9"/><circle cx="168.7" cy="773.5" r="4.9"/><circle cx="165.1" cy="779.6" r="4.9"/><circle cx="198.5" cy="777.3" r="4.9"/><circle cx="169.6" cy="777.2" r="4.9"/><circle cx="169.0" cy="778.5" r="4.9"/><circle cx="173.3" cy="780.3" r="4.9"/><circle cx="188.3" cy="780.5" r="4.9"/><circle cx="170.0" cy="775.2" r="4.9"/><circle cx="180.0" cy="776.0" r="4.9"/><circle cx="201.4" cy="771.3" r="4.9"/><circle cx="185.7" cy="774.8" r="4.9"/><circle cx="195.9" cy="780.1" r="4.9"/><circle cx="216.2" cy="777.2" r="4.9"/><circle cx="166.9" cy="780.1" r="4.9"/><circle cx="204.6" cy="779.0" r="4.9"/><circle cx="184.6" cy="779.3" r="4.9"/><circle cx="175.5" cy="766.5" r="4.9"/><circle cx="193.0" cy="780.1" r="4.9"/><circle cx="164.2" cy="778.1" r="4.9"/><circle cx="165.1" cy="779.9" r="4.9"/><circle cx="205.9" cy="767.3" r="4.9"/><circle cx="164.7" cy="779.5" r="4.9"/><circle cx="180.0" cy="773.2" r="4.9"/><circle cx="176.0" cy="772.3" r="4.9"/><circle cx="174.4" cy="778.0" r="4.9"/><circle cx="163.8" cy="776.0" r="4.9"/><circle cx="178.1" cy="779.3" r="4.9"/><circle cx="189.0" cy="775.6" r="4.9"/><circle cx="162.0" cy="780.4" r="4.9"/><circle cx="202.1" cy="779.1" r="4.9"/><circle cx="187.6" cy="780.5" r="4.9"/><circle cx="206.9" cy="775.8" r="4.9"/><circle cx="207.7" cy="775.4" r="4.9"/><circle cx="199.5" cy="780.5" r="4.9"/><circle cx="207.6" cy="777.4" r="4.9"/><circle cx="183.7" cy="780.0" r="4.9"/><circle cx="168.3" cy="768.0" r="4.9"/><circle cx="175.3" cy="779.3" r="4.9"/><circle cx="208.1" cy="779.1" r="4.9"/><circle cx="176.8" cy="776.6" r="4.9"/><circle cx="186.7" cy="774.0" r="4.9"/><circle cx="175.7" cy="779.9" r="4.9"/><circle cx="191.6" cy="767.8" r="4.9"/><circle cx="178.3" cy="780.6" r="4.9"/><circle cx="182.4" cy="775.9" r="4.9"/><circle cx="172.3" cy="780.6" r="4.9"/><circle cx="175.8" cy="774.0" r="4.9"/><circle cx="163.3" cy="775.1" r="4.9"/><circle cx="174.0" cy="776.6" r="4.9"/><circle cx="203.0" cy="776.4" r="4.9"/><circle cx="210.2" cy="777.2" r="4.9"/><circle cx="216.1" cy="770.4" r="4.9"/><circle cx="197.0" cy="766.8" r="4.9"/><circle cx="256.9" cy="777.7" r="4.9"/><circle cx="253.2" cy="775.3" r="4.9"/><circle cx="238.7" cy="779.0" r="4.9"/><circle cx="253.8" cy="776.7" r="4.9"/><circle cx="247.1" cy="779.6" r="4.9"/><circle cx="216.5" cy="775.4" r="4.9"/><circle cx="219.9" cy="779.2" r="4.9"/><circle cx="244.5" cy="777.6" r="4.9"/><circle cx="238.0" cy="770.9" r="4.9"/><circle cx="250.2" cy="777.4" r="4.9"/><circle cx="246.0" cy="772.6" r="4.9"/><circle cx="226.9" cy="776.6" r="4.9"/><circle cx="249.3" cy="773.9" r="4.9"/><circle cx="260.9" cy="778.3" r="4.9"/><circle cx="237.5" cy="777.6" r="4.9"/><circle cx="244.0" cy="780.1" r="4.9"/><circle cx="221.9" cy="772.9" r="4.9"/><circle cx="229.3" cy="780.4" r="4.9"/><circle cx="217.9" cy="773.5" r="4.9"/><circle cx="247.5" cy="779.3" r="4.9"/><circle cx="239.3" cy="777.2" r="4.9"/><circle cx="220.6" cy="780.2" r="4.9"/><circle cx="261.0" cy="780.6" r="4.9"/><circle cx="236.6" cy="778.5" r="4.9"/><circle cx="236.1" cy="778.1" r="4.9"/><circle cx="259.4" cy="775.6" r="4.9"/><circle cx="221.7" cy="774.6" r="4.9"/><circle cx="221.2" cy="779.2" r="4.9"/><circle cx="256.7" cy="779.7" r="4.9"/><circle cx="257.2" cy="780.3" r="4.9"/><circle cx="215.2" cy="776.9" r="4.9"/><circle cx="229.2" cy="776.1" r="4.9"/><circle cx="229.9" cy="780.6" r="4.9"/><circle cx="250.3" cy="780.3" r="4.9"/><circle cx="258.5" cy="778.0" r="4.9"/><circle cx="228.6" cy="776.9" r="4.9"/><circle cx="261.9" cy="778.9" r="4.9"/><circle cx="235.1" cy="779.8" r="4.9"/><circle cx="219.8" cy="779.8" r="4.9"/><circle cx="259.0" cy="778.0" r="4.9"/><circle cx="239.0" cy="776.3" r="4.9"/><circle cx="259.9" cy="779.6" r="4.9"/><circle cx="244.7" cy="779.7" r="4.9"/><circle cx="240.8" cy="780.3" r="4.9"/><circle cx="249.4" cy="775.9" r="4.9"/><circle cx="245.3" cy="779.9" r="4.9"/><circle cx="258.6" cy="775.9" r="4.9"/><circle cx="231.2" cy="773.9" r="4.9"/><circle cx="260.9" cy="775.5" r="4.9"/><circle cx="229.1" cy="778.0" r="4.9"/><circle cx="222.9" cy="777.5" r="4.9"/><circle cx="257.6" cy="779.1" r="4.9"/><circle cx="257.6" cy="780.6" r="4.9"/><circle cx="221.6" cy="779.1" r="4.9"/><circle cx="231.1" cy="777.1" r="4.9"/><circle cx="227.1" cy="775.7" r="4.9"/><circle cx="250.2" cy="777.5" r="4.9"/><circle cx="239.6" cy="777.6" r="4.9"/><circle cx="217.9" cy="771.2" r="4.9"/><circle cx="220.9" cy="776.1" r="4.9"/><circle cx="297.4" cy="778.6" r="4.9"/><circle cx="272.2" cy="777.9" r="4.9"/><circle cx="301.1" cy="779.9" r="4.9"/><circle cx="262.9" cy="774.5" r="4.9"/><circle cx="298.7" cy="778.6" r="4.9"/><circle cx="262.0" cy="776.1" r="4.9"/><circle cx="295.8" cy="779.9" r="4.9"/><circle cx="272.2" cy="778.2" r="4.9"/><circle cx="283.4" cy="778.7" r="4.9"/><circle cx="291.6" cy="778.9" r="4.9"/><circle cx="280.8" cy="780.0" r="4.9"/><circle cx="294.1" cy="776.7" r="4.9"/><circle cx="288.5" cy="779.2" r="4.9"/><circle cx="272.3" cy="778.5" r="4.9"/><circle cx="266.6" cy="775.7" r="4.9"/><circle cx="285.9" cy="778.9" r="4.9"/><circle cx="286.6" cy="777.5" r="4.9"/><circle cx="280.9" cy="780.4" r="4.9"/><circle cx="298.2" cy="779.3" r="4.9"/><circle cx="272.1" cy="780.4" r="4.9"/><circle cx="274.6" cy="776.0" r="4.9"/><circle cx="289.7" cy="779.0" r="4.9"/><circle cx="325.0" cy="780.5" r="4.9"/><circle cx="304.1" cy="779.3" r="4.9"/><circle cx="325.5" cy="778.6" r="4.9"/><circle cx="327.4" cy="780.0" r="4.9"/><circle cx="335.0" cy="779.0" r="4.9"/><circle cx="310.6" cy="778.6" r="4.9"/><circle cx="312.7" cy="780.5" r="4.9"/><circle cx="309.2" cy="779.1" r="4.9"/><circle cx="615.5" cy="689.25" r="4.9"/></g>
<text class="n l" x="624" y="693.75">Num_P</text>
</svg></body></html>
